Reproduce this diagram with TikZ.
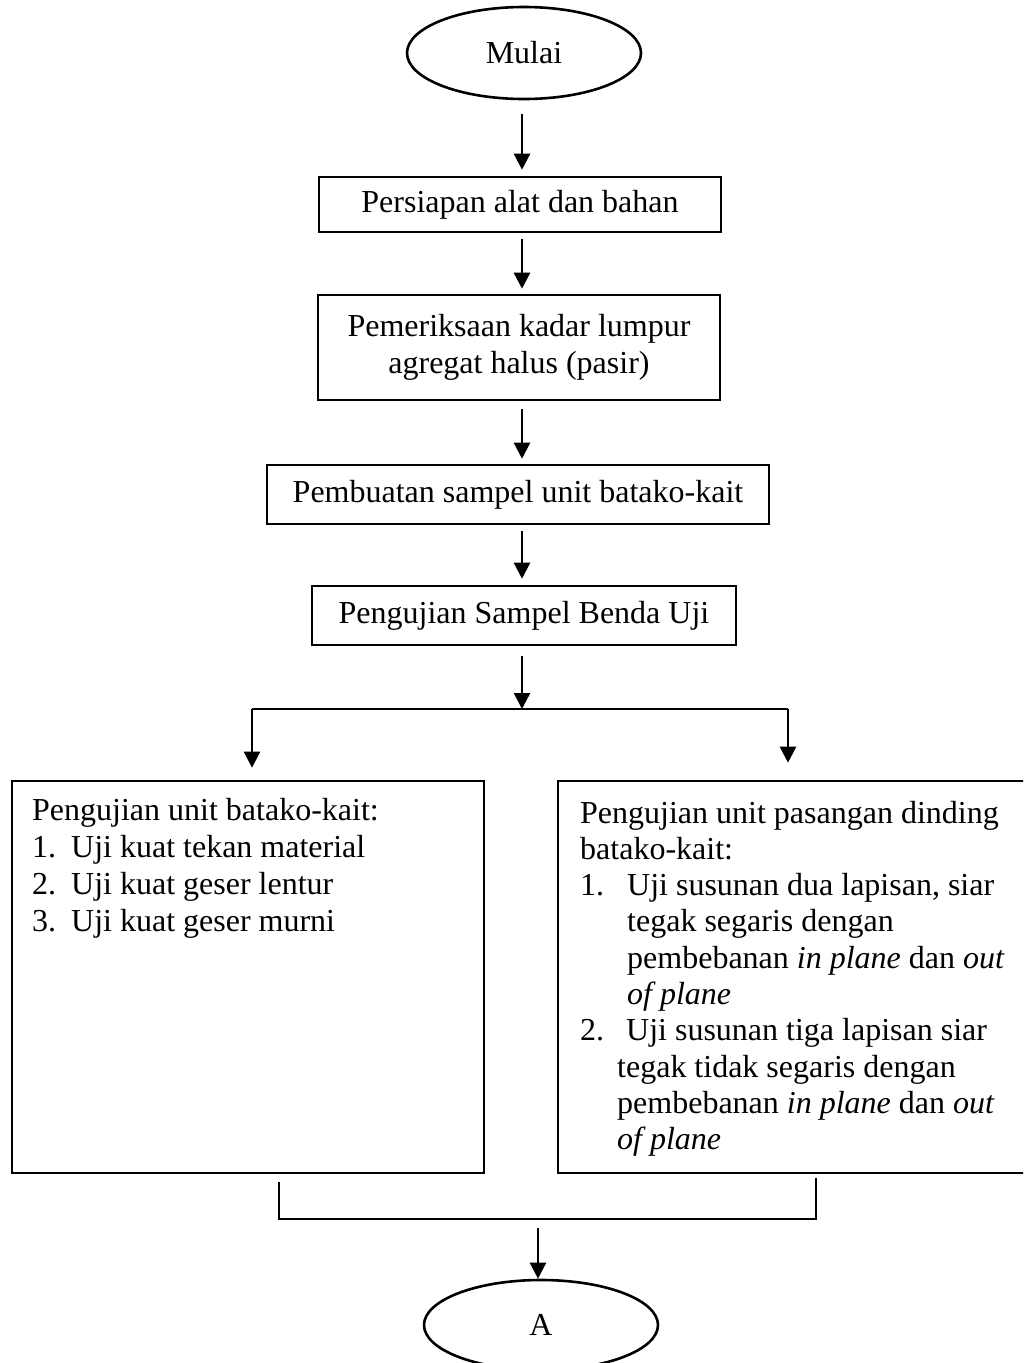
\documentclass[tikz,border=0pt]{standalone}
\usepackage{fontspec}
\setmainfont{Liberation Serif}
\usetikzlibrary{shapes.geometric,arrows.meta}
\begin{document}
\begin{tikzpicture}[x=1pt,y=-1pt,
  box/.style={draw,line width=2.6pt,rectangle,inner sep=0pt,align=center,font=\fontsize{32}{37}\selectfont},
  oval/.style={draw,line width=2.6pt,ellipse,inner sep=0pt,minimum width=234pt,minimum height=92pt,font=\fontsize{32}{37}\selectfont},
  arr/.style={line width=2.4pt,-{Triangle[length=16pt,width=16pt]}},
  conn/.style={line width=1.6pt},
  txt/.style={anchor=base west,inner sep=0pt,font=\fontsize{32}{37}\selectfont},
]
\useasboundingbox (0,0) rectangle (1023,1363);
\clip (0,0) rectangle (1023,1363);

\node[oval] (mulai) at (524,53) {Mulai};
\node[box,minimum width=402pt,minimum height=55pt] (b1) at (520,204.5) {Persiapan alat dan bahan};
\node[box,minimum width=402pt,minimum height=105pt] (b2) at (519,347.5) {Pemeriksaan kadar lumpur\\agregat halus (pasir)};
\node[box,minimum width=502pt,minimum height=59pt] (b3) at (518,494.5) {Pembuatan sampel unit batako-kait};
\node[box,minimum width=424pt,minimum height=59pt] (b4) at (524,615.5) {Pengujian Sampel Benda Uji};

\node[box,minimum width=472pt,minimum height=392pt] (L) at (248,977) {};
\node[box,minimum width=470pt,minimum height=392pt] (R) at (793,977) {};

\node[txt] (Ltxt) at (32,820) {\vtop{\baselineskip=37pt
  \hbox{Pengujian unit batako-kait:}
  \hbox{\makebox[39pt][l]{1.}Uji kuat tekan material}
  \hbox{\makebox[39pt][l]{2.}Uji kuat geser lentur}
  \hbox{\makebox[39pt][l]{3.}Uji kuat geser murni}}};

\node[txt] (Rtxt) at (580,823) {\vtop{\baselineskip=36.3pt
  \hbox{Pengujian unit pasangan dinding}
  \hbox{batako-kait:}
  \hbox{\makebox[47pt][l]{1.}Uji susunan dua lapisan, siar}
  \hbox{\hspace*{47pt}tegak segaris dengan}
  \hbox{\hspace*{47pt}pembebanan \textit{in plane} dan \textit{out}}
  \hbox{\hspace*{47pt}\textit{of plane}}
  \hbox{\makebox[46pt][l]{2.}Uji susunan tiga lapisan siar}
  \hbox{\hspace*{37pt}tegak tidak segaris dengan}
  \hbox{\hspace*{37pt}pembebanan \textit{in plane} dan \textit{out}}
  \hbox{\hspace*{37pt}\textit{of plane}}}};

\node[oval,minimum height=90pt] (A) at (541,1325) {A};

\coordinate (col) at (522,0);
\draw[arr] ([yshift=-14pt]mulai.south -| col) -- ([yshift=6pt]b1.north -| col);
\draw[arr] ([yshift=-6pt]b1.south -| col) -- ([yshift=5pt]b2.north -| col);
\draw[arr] ([yshift=-8pt]b2.south -| col) -- ([yshift=5pt]b3.north -| col);
\draw[arr] ([yshift=-6pt]b3.south -| col) -- ([yshift=6pt]b4.north -| col);

\coordinate (sp) at (522,709);
\coordinate (spl) at (252,709);
\coordinate (spr) at (788,709);
\draw[arr] ([yshift=-10pt]b4.south -| col) -- (sp);
\draw[conn] (spl) -- (spr);
\draw[arr] (spl) -- ([yshift=12pt]L.north -| spl);
\draw[arr] (spr) -- ([yshift=17pt]R.north -| spr);

\coordinate (bl) at (279,1182);
\coordinate (br) at (816,1178);
\coordinate (bot) at (0,1219);
\draw[conn] (bl) -- (bl |- bot) -- (br |- bot) -- (br);
\coordinate (jn) at (538,1228);
\draw[arr] (jn) -- (jn |- A.north);
\end{tikzpicture}
\end{document}
